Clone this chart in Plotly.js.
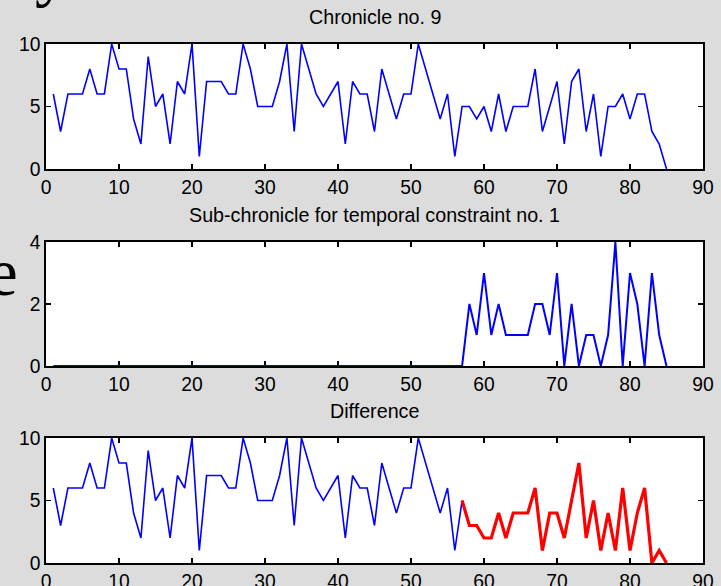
<!DOCTYPE html>
<html>
<head>
<meta charset="utf-8">
<script src="https://cdn.plot.ly/plotly-3.0.1.min.js"></script>
<style>html,body{margin:0;padding:0;background:#dcdcdc;}#chart{width:721px;height:586px;}</style>
</head>
<body>
<div id="chart"></div>
<script>
// index along the chronicle
const steps = [1,2,3,4,5,6,7,8,9,10,11,12,13,14,15,16,17,18,19,20,21,22,23,24,25,26,27,28,29,30,
  31,32,33,34,35,36,37,38,39,40,41,42,43,44,45,46,47,48,49,50,51,52,53,54,55,56,57,58,59,60,
  61,62,63,64,65,66,67,68,69,70,71,72,73,74,75,76,77,78,79,80,81,82,83,84,85];

// Chronicle no. 9
const chronicle = [6,3,6,6,6,8,6,6,10,8,8,4,2,9,5,6,2,7,6,10,1,7,7,7,6,6,10,8,5,5,
  5,7,10,3,10,8,6,5,6,7,2,7,6,6,3,8,6,4,6,6,10,8,6,4,6,1,5,5,4,5,
  3,6,3,5,5,5,8,3,5,7,2,7,8,3,6,1,5,5,6,4,6,6,3,2,0];

// Sub-chronicle for temporal constraint no. 1
const subChronicle = [0,0,0,0,0,0,0,0,0,0,0,0,0,0,0,0,0,0,0,0,0,0,0,0,0,0,0,0,0,0,
  0,0,0,0,0,0,0,0,0,0,0,0,0,0,0,0,0,0,0,0,0,0,0,0,0,0,0,2,1,3,
  1,2,1,1,1,1,2,2,1,3,0,2,0,1,1,0,1,4,0,3,2,0,3,1,0];

// Difference: unchanged part (steps 1..57) and changed part (steps 57..85)
const diffKeptSteps = steps.slice(0, 57);
const diffKeptValues = chronicle.slice(0, 57);
const diffChangedSteps = [57,58,59,60,61,62,63,64,65,66,67,68,69,70,71,72,73,74,75,76,77,78,79,80,81,82,83,84,85];
const diffChangedValues = [5,3,3,2,2,4,2,4,4,4,6,1,4,4,2,5,8,2,5,1,4,1,6,1,4,6,0,1,0];

const xTicks = [0,10,20,30,40,50,60,70,80,90];
const titles = ['Chronicle no. 9', 'Sub-chronicle for temporal constraint no. 1', 'Difference'];

const BLUE = '#0000ff', RED = '#ff0000';
const tickFont = {family: 'Liberation Sans, Arial, sans-serif', size: 19.3, color: '#000'};
const titleFont = {family: 'Liberation Sans, Arial, sans-serif', size: 19.7, color: '#000'};
function serifFont() { return {family: 'Liberation Serif', size: 67, color: '#000'}; }

const traces = [
  {x: steps, y: chronicle, xaxis: 'x', yaxis: 'y', mode: 'lines', line: {color: BLUE, width: 1.6}, cliponaxis: false},
  {x: steps, y: subChronicle, xaxis: 'x2', yaxis: 'y2', mode: 'lines', line: {color: BLUE, width: 2}, cliponaxis: false},
  {x: diffKeptSteps, y: diffKeptValues, xaxis: 'x3', yaxis: 'y3', mode: 'lines', line: {color: BLUE, width: 1.6}, cliponaxis: false},
  {x: diffChangedSteps, y: diffChangedValues, xaxis: 'x3', yaxis: 'y3', mode: 'lines', line: {color: RED, width: 3.2}, cliponaxis: false}
];

function xa(anchor) {
  return {anchor: anchor, range: [0, 90], tickvals: xTicks, ticks: 'inside', ticklen: 5, tickwidth: 1.2,
    tickcolor: '#000', showline: true, linecolor: '#000', linewidth: 1.6, mirror: 'ticks',
    showgrid: false, zeroline: false, tickfont: tickFont, fixedrange: true, layer: 'below traces'};
}
function ya(anchor, domain, max, dt) {
  return {anchor: anchor, domain: domain, range: [0, max], dtick: dt, tick0: 0, ticks: 'inside', ticklen: 5,
    tickwidth: 1.2, tickcolor: '#000', showline: true, linecolor: '#000', linewidth: 1.6, mirror: 'ticks',
    showgrid: false, zeroline: false, tickfont: tickFont, fixedrange: true, layer: 'below traces'};
}

const layout = {
  width: 721, height: 586,
  paper_bgcolor: '#dcdcdc', plot_bgcolor: '#ffffff',
  margin: {l: 46, r: 18, t: 44, b: 23, pad: 0},
  showlegend: false,
  xaxis: xa('y'), yaxis: ya('x', [0.7592, 1], 10, 5),
  xaxis2: xa('y2'), yaxis2: ya('x2', [0.3796, 0.6185], 4, 2),
  xaxis3: xa('y3'), yaxis3: ya('x3', [0, 0.2408], 10, 5),
  annotations: [
    {text: titles[0], xref: 'paper', yref: 'paper', x: 0.5, y: 1, xanchor: 'center', yanchor: 'bottom', yshift: 14, showarrow: false, font: titleFont},
    {text: titles[1], xref: 'paper', yref: 'paper', x: 0.5, y: 0.6185, xanchor: 'center', yanchor: 'bottom', yshift: 14, showarrow: false, font: titleFont},
    {text: titles[2], xref: 'paper', yref: 'paper', x: 0.5, y: 0.2408, xanchor: 'center', yanchor: 'bottom', yshift: 14, showarrow: false, font: titleFont},
    {text: 'y', xref: 'paper', yref: 'paper', x: (33 - 46) / 657, y: (563 + 29) / 519, xanchor: 'left', yanchor: 'middle', showarrow: false, font: serifFont()},
    {text: 'e', xref: 'paper', yref: 'paper', x: (-14 - 46) / 657, y: (563 - 272) / 519, xanchor: 'left', yanchor: 'middle', showarrow: false, font: serifFont()}
  ]
};

Plotly.newPlot('chart', traces, layout, {staticPlot: true});
</script>
</body>
</html>
